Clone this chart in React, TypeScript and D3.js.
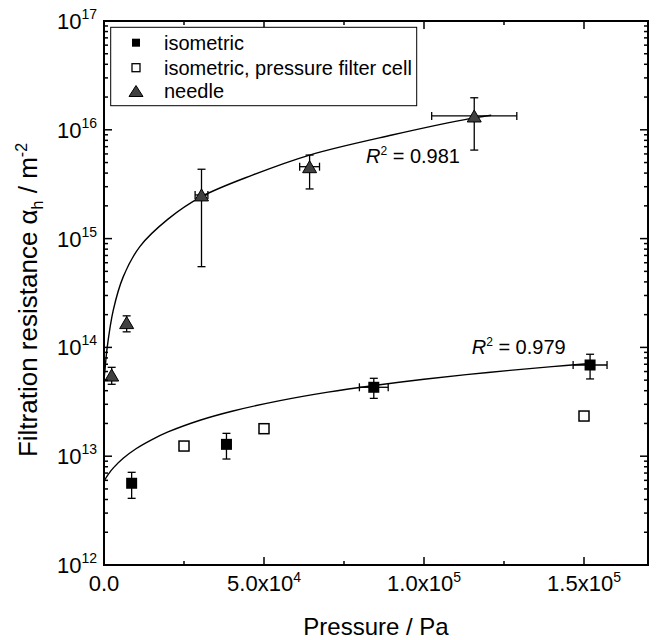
import React from "react";
import * as d3 from "d3";

// ---- data ----
const isoP = [8640, 38270, 84310, 151900];
const isoA = [5.64e12, 1.285e13, 4.3e13, 6.89e13];
const isoALow = [4.1e12, 9.42e12, 3.4e13, 5.13e13];
const isoAHigh = [7.11e12, 1.622e13, 5.2e13, 8.65e13];
const isoPErr = [0, 0, 4500, 5300];

const filterP = [25000, 50000, 150000];
const filterA = [1.24e13, 1.79e13, 2.34e13];

const needleP = [2400, 7080, 30470, 64250, 115700];
const needleA = [5.57e13, 1.69e14, 2.52e15, 4.58e15, 1.34e16];
const needleALow = [4.58e13, 1.39e14, 5.52e14, 2.86e15, 6.51e15];
const needleAHigh = [6.56e13, 1.95e14, 4.34e15, 5.86e15, 1.97e16];
const needlePErr = [0, 0, 2000, 3100, 13300];

// fit curves
const needleFitP = [0, 300, 1000, 2900, 6000, 11200, 20000, 30470, 46570, 64250, 90000, 115090, 121000];
const needleFitA = [5.0e13, 6.2e13, 1.0e14, 2.2e14, 4.45e14, 8.45e14, 1.51e15, 2.43e15, 3.85e15, 5.86e15, 8.95e15, 1.28e16, 1.36e16];
const isoFitP = [0, 500, 1500, 3000, 6000, 10000, 15000, 20000, 30000, 40000, 55000, 70000, 85000, 100000, 120000, 140000, 151900];
const isoFitA = [5.83e12, 6.24e12, 6.92e12, 7.85e12, 9.56e12, 1.17e13, 1.42e13, 1.67e13, 2.14e13, 2.59e13, 3.24e13, 3.88e13, 4.49e13, 5.1e13, 5.88e13, 6.66e13, 7.12e13];

const xTickVals = [0, 5e4, 1e5, 1.5e5];
const xTickMant = ["0.0", "5.0x10", "1.0x10", "1.5x10"];
const xTickExp = ["", "4", "5", "5"];
const xMinorVals = [2.5e4, 7.5e4, 1.25e5];
const yTickExps = [12, 13, 14, 15, 16, 17];

const legendLabels = ["isometric", "isometric, pressure filter cell", "needle"];
const r2Labels = ["0.981", "0.979"];

const FONT = "'Liberation Sans', Arial, sans-serif";

export default function App() {
  const W = 659, H = 640;
  const L = 104, R = 648, T = 21, B = 565;
  const x = d3.scaleLinear().domain([0, 1.7e5]).range([L, R]);
  const y = d3.scaleLog().domain([1e12, 1e17]).range([B, T]);

  const line = d3
    .line<[number, number]>()
    .x((d) => x(d[0]))
    .y((d) => y(d[1]))
    .curve(d3.curveCatmullRom.alpha(0.5));

  const needleFit = line(needleFitP.map((p, i) => [p, needleFitA[i]] as [number, number])) || "";
  const isoFit = line(isoFitP.map((p, i) => [p, isoFitA[i]] as [number, number])) || "";

  const minorY: number[] = [];
  for (let e = 12; e < 17; e++) for (let k = 2; k <= 9; k++) minorY.push(k * Math.pow(10, e));

  const cap = 4;
  const errBars = (P: number[], A: number[], lo: number[], hi: number[], pe: number[], key: string) =>
    P.map((p, i) => {
      const cx = x(p), cy = y(A[i]);
      const y1 = y(hi[i]), y2 = y(lo[i]);
      return (
        <g key={key + i} stroke="#000" strokeWidth={1.3}>
          <line x1={cx} x2={cx} y1={y1} y2={y2} />
          <line x1={cx - cap} x2={cx + cap} y1={y1} y2={y1} />
          <line x1={cx - cap} x2={cx + cap} y1={y2} y2={y2} />
          {pe[i] > 0 && (
            <>
              <line x1={x(p - pe[i])} x2={x(p + pe[i])} y1={cy} y2={cy} />
              <line x1={x(p - pe[i])} x2={x(p - pe[i])} y1={cy - cap} y2={cy + cap} />
              <line x1={x(p + pe[i])} x2={x(p + pe[i])} y1={cy - cap} y2={cy + cap} />
            </>
          )}
        </g>
      );
    });

  const tri = (cx: number, cy: number, w: number, h: number) =>
    `M${cx - w / 2},${cy + h / 2}L${cx + w / 2},${cy + h / 2}L${cx},${cy - h / 2}Z`;

  const legX = 136;
  const legRows = [42.7, 67.7, 91];

  return (
    <svg
      width={W}
      height={H}
      style={{ position: "absolute", left: 0, top: 0, background: "#fff" }}
      fontFamily={FONT}
    >
      <rect x={0} y={0} width={W} height={H} fill="#fff" />
      {/* fit curves */}
      <path d={needleFit} fill="none" stroke="#000" strokeWidth={1.4} />
      <path d={isoFit} fill="none" stroke="#000" strokeWidth={1.4} />

      {/* error bars */}
      {errBars(isoP, isoA, isoALow, isoAHigh, isoPErr, "ie")}
      {errBars(needleP, needleA, needleALow, needleAHigh, needlePErr, "ne")}

      {/* markers */}
      {isoP.map((p, i) => (
        <rect key={"is" + i} x={x(p) - 5.5} y={y(isoA[i]) - 5.5} width={11} height={11} fill="#000" />
      ))}
      {filterP.map((p, i) => (
        <rect key={"fs" + i} x={x(p) - 5} y={y(filterA[i]) - 5} width={10} height={10} fill="#fff" stroke="#000" strokeWidth={1.5} />
      ))}
      {needleP.map((p, i) => (
        <path key={"nt" + i} d={tri(x(p), y(needleA[i]), 14, 12)} fill="#404040" stroke="#000" strokeWidth={1} />
      ))}

      {/* R^2 labels */}
      <text x={366} y={162.7} fontSize={20}>
        <tspan fontStyle="italic">R</tspan>
        <tspan fontSize={12} dy={-8}>2</tspan>
        <tspan dy={8}>{" = " + r2Labels[0]}</tspan>
      </text>
      <text x={471.7} y={354} fontSize={20}>
        <tspan fontStyle="italic">R</tspan>
        <tspan fontSize={12} dy={-8}>2</tspan>
        <tspan dy={8}>{" = " + r2Labels[1]}</tspan>
      </text>

      {/* frame */}
      <rect x={L} y={T} width={R - L} height={B - T} fill="none" stroke="#000" strokeWidth={2} />

      {/* x ticks */}
      {xTickVals.map((v) => (
        <g key={"xt" + v} stroke="#000" strokeWidth={1.5}>
          <line x1={x(v)} x2={x(v)} y1={B} y2={B - 8} />
          <line x1={x(v)} x2={x(v)} y1={T} y2={T + 8} />
        </g>
      ))}
      {xMinorVals.map((v) => (
        <g key={"xm" + v} stroke="#000" strokeWidth={1.5}>
          <line x1={x(v)} x2={x(v)} y1={B} y2={B - 4} />
          <line x1={x(v)} x2={x(v)} y1={T} y2={T + 4} />
        </g>
      ))}
      {xTickVals.map((v, i) => (
        <text key={"xl" + v} x={x(v)} y={591} fontSize={22} textAnchor="middle">
          {xTickMant[i]}
          {xTickExp[i] && (
            <tspan fontSize={14} dy={-9}>
              {xTickExp[i]}
            </tspan>
          )}
        </text>
      ))}

      {/* y ticks */}
      {yTickExps.map((e) => {
        const v = Math.pow(10, e);
        return (
          <g key={"yt" + e} stroke="#000" strokeWidth={1.5}>
            <line x1={L} x2={L + 8} y1={y(v)} y2={y(v)} />
            <line x1={R} x2={R - 8} y1={y(v)} y2={y(v)} />
          </g>
        );
      })}
      {minorY.map((v) => (
        <g key={"ym" + v} stroke="#000" strokeWidth={1.5}>
          <line x1={L} x2={L + 4} y1={y(v)} y2={y(v)} />
          <line x1={R} x2={R - 4} y1={y(v)} y2={y(v)} />
        </g>
      ))}
      {yTickExps.map((e) => (
        <text key={"yl" + e} x={97} y={y(Math.pow(10, e)) + 8} fontSize={22} textAnchor="end">
          10
          <tspan fontSize={14} dy={-10}>
            {String(e)}
          </tspan>
        </text>
      ))}

      {/* axis titles */}
      <text x={(L + R) / 2} y={635} fontSize={24} textAnchor="middle">
        Pressure / Pa
      </text>
      <text transform="translate(37,300) rotate(-90)" fontSize={26} textAnchor="middle">
        Filtration resistance α
        <tspan fontSize={16} dy={6}>h</tspan>
        <tspan dy={-6}>{"   / m"}</tspan>
        <tspan fontSize={16} dy={-10}>-2</tspan>
      </text>

      {/* legend */}
      <rect x={110.7} y={27.3} width={306} height={78.4} fill="#fff" stroke="#000" strokeWidth={1} />
      <rect x={legX - 4} y={legRows[0] - 4} width={8} height={8} fill="#000" />
      <rect x={legX - 4} y={legRows[1] - 4} width={8} height={8} fill="#fff" stroke="#000" strokeWidth={1.3} />
      <path d={tri(legX, legRows[2], 14, 11)} fill="#404040" stroke="#000" strokeWidth={1} />
      {legendLabels.map((t, i) => (
        <text key={"lg" + i} x={164} y={legRows[i] + 7} fontSize={20}>
          {t}
        </text>
      ))}
    </svg>
  );
}
